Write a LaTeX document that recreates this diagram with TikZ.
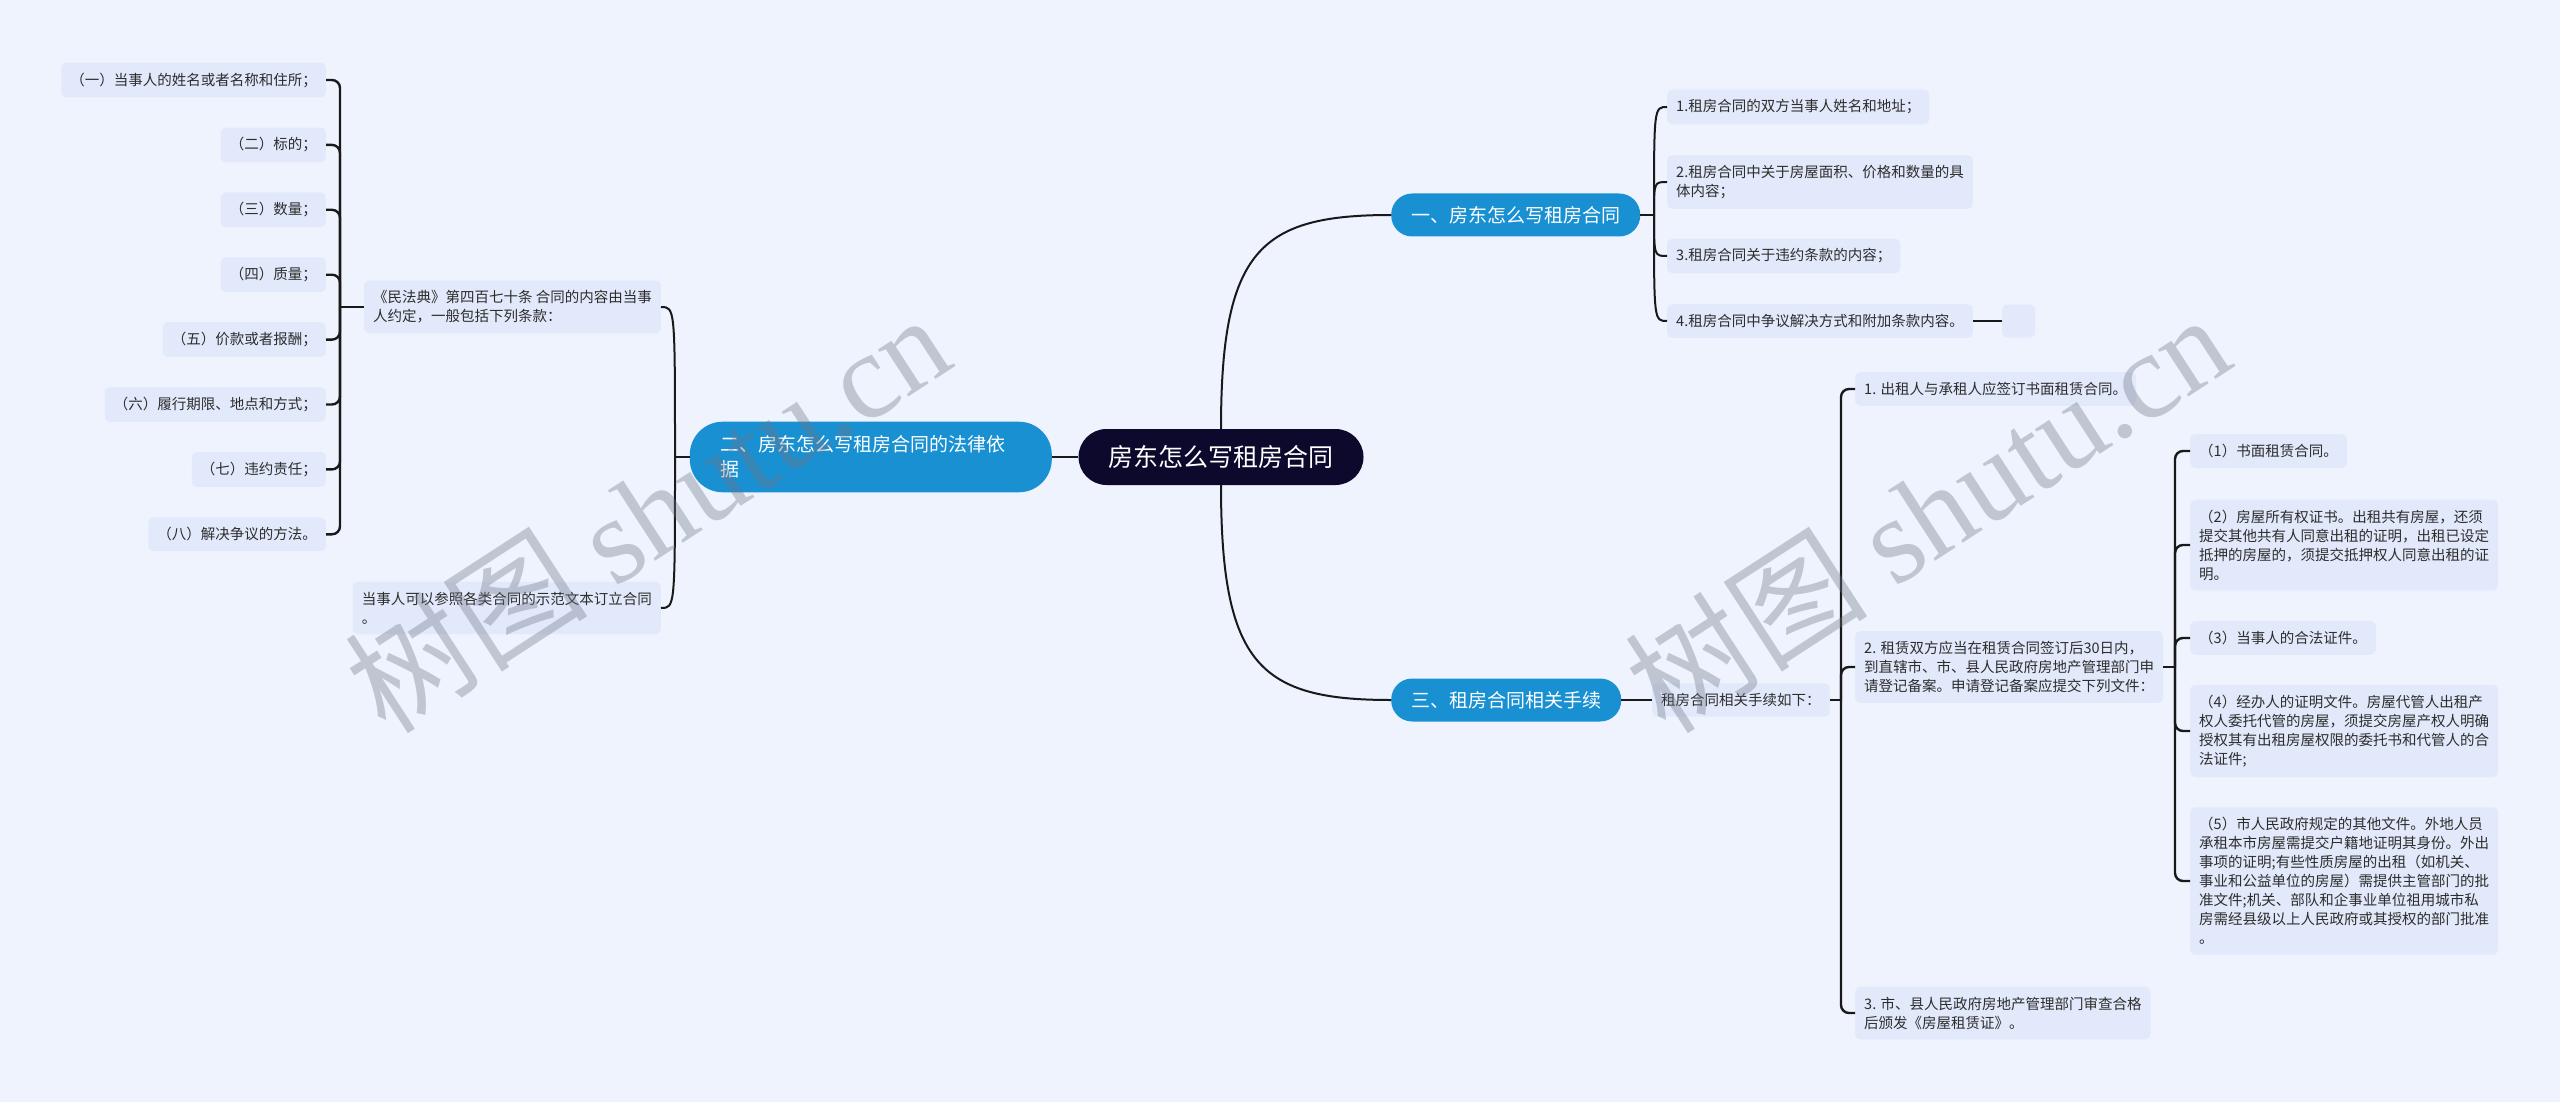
\documentclass[tikz,border=0pt]{standalone}
\usepackage{fontspec}
\setmainfont{Noto Sans CJK SC}
\newfontfamily\wmserif{Liberation Serif}
\definecolor{pagebg}{RGB}{238,243,254}
\definecolor{rootnavy}{RGB}{12,9,44}
\definecolor{topicblue}{RGB}{25,144,210}
\definecolor{leaffill}{RGB}{225,233,250}
\definecolor{leaftext}{RGB}{45,45,45}
\definecolor{wmgray}{RGB}{112,117,134}
\begin{document}
\begin{tikzpicture}[x=1pt,y=1pt,
    rootbox/.style={fill=rootnavy, text=white, rounded corners=28pt, inner xsep=30pt, minimum height=56pt, font=\fontsize{25}{30}\selectfont},
    topic/.style={fill=topicblue, text=white, rounded corners=21pt, inner xsep=20pt, minimum height=43pt, font=\fontsize{19}{25}\selectfont},
    leaf/.style={fill=leaffill, text=leaftext, rounded corners=5pt, inner xsep=9pt, inner ysep=10pt, align=left, font=\fontsize{14.5}{19}\selectfont},
    link/.style={line width=2pt, draw=black!90},
    bracket/.style={line width=2.4pt, draw=black!90, rounded corners=8pt},
    wmark/.style={text=wmgray, text opacity=0.36, rotate=33, font=\fontsize{122}{122}\selectfont}]
  \fill[pagebg] (0,0) rectangle (2560,-1102);
  \useasboundingbox (0,0) rectangle (2560,-1102);

  \node[rootbox] (root) at (1221,-457) {房东怎么写租房合同};
  \node[topic, anchor=west] (t1) at (1391,-215) {一、房东怎么写租房合同};
  \node[topic, anchor=west] (t3) at (1391,-700) {三、租房合同相关手续};
  \node[topic, anchor=east, text width=300pt, inner xsep=31pt, inner ysep=14pt, rounded corners=33pt, align=left] (t2) at (1052,-457) {二、房东怎么写租房合同的法律依\\据};

  \node[leaf, anchor=west] (a1) at (1667,-107) {1.租房合同的双方当事人姓名和地址；};
  \node[leaf, anchor=west] (a2) at (1667,-182) {2.租房合同中关于房屋面积、价格和数量的具\\体内容；};
  \node[leaf, anchor=west] (a3) at (1667,-256) {3.租房合同关于违约条款的内容；};
  \node[leaf, anchor=west] (a4) at (1667,-321) {4.租房合同中争议解决方式和附加条款内容。};
  \node[leaf, anchor=west, minimum width=33pt, minimum height=33pt] (a5) at (2002,-321) {};

  \node[leaf, anchor=east] (law) at (661,-307) {《民法典》第四百七十条 合同的内容由当事\\人约定，一般包括下列条款：};
  \node[leaf, anchor=east] (model) at (661,-608) {当事人可以参照各类合同的示范文本订立合同\\。};
  \foreach \txt [count=\i] in {（一）当事人的姓名或者名称和住所；, （二）标的；, （三）数量；, （四）质量；, （五）价款或者报酬；, （六）履行期限、地点和方式；, （七）违约责任；, （八）解决争议的方法。}
    \node[leaf, anchor=east] (k\i) at (326,{-80-64.9*(\i-1)}) {\txt};

  \node[leaf, anchor=west] (steps) at (1652,-700) {租房合同相关手续如下：};
  \node[leaf, anchor=west] (s1) at (1855,-389) {1. 出租人与承租人应签订书面租赁合同。};
  \node[leaf, anchor=west] (s2) at (1855,-667) {2. 租赁双方应当在租赁合同签订后30日内，\\到直辖市、市、县人民政府房地产管理部门申\\请登记备案。申请登记备案应提交下列文件：};
  \node[leaf, anchor=west] (s3) at (1855,-1013) {3. 市、县人民政府房地产管理部门审查合格\\后颁发《房屋租赁证》。};

  \node[leaf, anchor=west] (d1) at (2190,-451) {（1）书面租赁合同。};
  \node[leaf, anchor=west] (d2) at (2190,-545) {（2）房屋所有权证书。出租共有房屋，还须\\提交其他共有人同意出租的证明，出租已设定\\抵押的房屋的，须提交抵押权人同意出租的证\\明。};
  \node[leaf, anchor=west] (d3) at (2190,-638) {（3）当事人的合法证件。};
  \node[leaf, anchor=west] (d4) at (2190,-731) {（4）经办人的证明文件。房屋代管人出租产\\权人委托代管的房屋，须提交房屋产权人明确\\授权其有出租房屋权限的委托书和代管人的合\\法证件;};
  \node[leaf, anchor=west] (d5) at (2190,-881) {（5）市人民政府规定的其他文件。外地人员\\承租本市房屋需提交户籍地证明其身份。外出\\事项的证明;有些性质房屋的出租（如机关、\\事业和公益单位的房屋）需提供主管部门的批\\准文件;机关、部队和企事业单位祖用城市私\\房需经县级以上人民政府或其授权的部门批准\\。};

  \draw[link] (root.north) .. controls (1221,-250) and (1260,-215) .. (t1.west);
  \draw[link] (root.south) .. controls (1221,-665) and (1260,-700) .. (t3.west);
  \draw[link] (root.west) -- (t2.east);

  \coordinate (f1) at (1654,-215);
  \draw[link] (t1.east) -- (f1);
  \foreach \n in {a1,a2,a3,a4}
    \draw[link] (f1) .. controls (f1 |- \n.west) .. (\n.west);
  \draw[link] (a4.east) -- (a5.west);

  \coordinate (f2) at (675,-457);
  \draw[link] (t2.west) -- (f2);
  \foreach \n in {law,model}
    \draw[link] (f2) .. controls (f2 |- \n.east) .. (\n.east);
  \coordinate (lawfork) at (340,-307);
  \draw[bracket] (law.west) -- (lawfork);
  \foreach \i in {1,...,8}
    \draw[bracket] (lawfork) |- (k\i.east);

  \draw[link] (t3.east) -- (steps.west);
  \coordinate (f3) at (1841,-700);
  \draw[bracket] (steps.east) -- (f3);
  \foreach \n in {s1,s2,s3}
    \draw[bracket] (f3) |- (\n.west);
  \coordinate (f4) at (2175,-667);
  \draw[bracket] (s2.east) -- (f4);
  \foreach \n in {d1,d2,d3,d4,d5}
    \draw[bracket] (f4) |- (\n.west);

  \node[wmark] (wm1) at (647,-512) {树图 {\wmserif shutu.cn}};
  \node[wmark] (wm2) at (1927,-512) {树图 {\wmserif shutu.cn}};
\end{tikzpicture}
\end{document}
